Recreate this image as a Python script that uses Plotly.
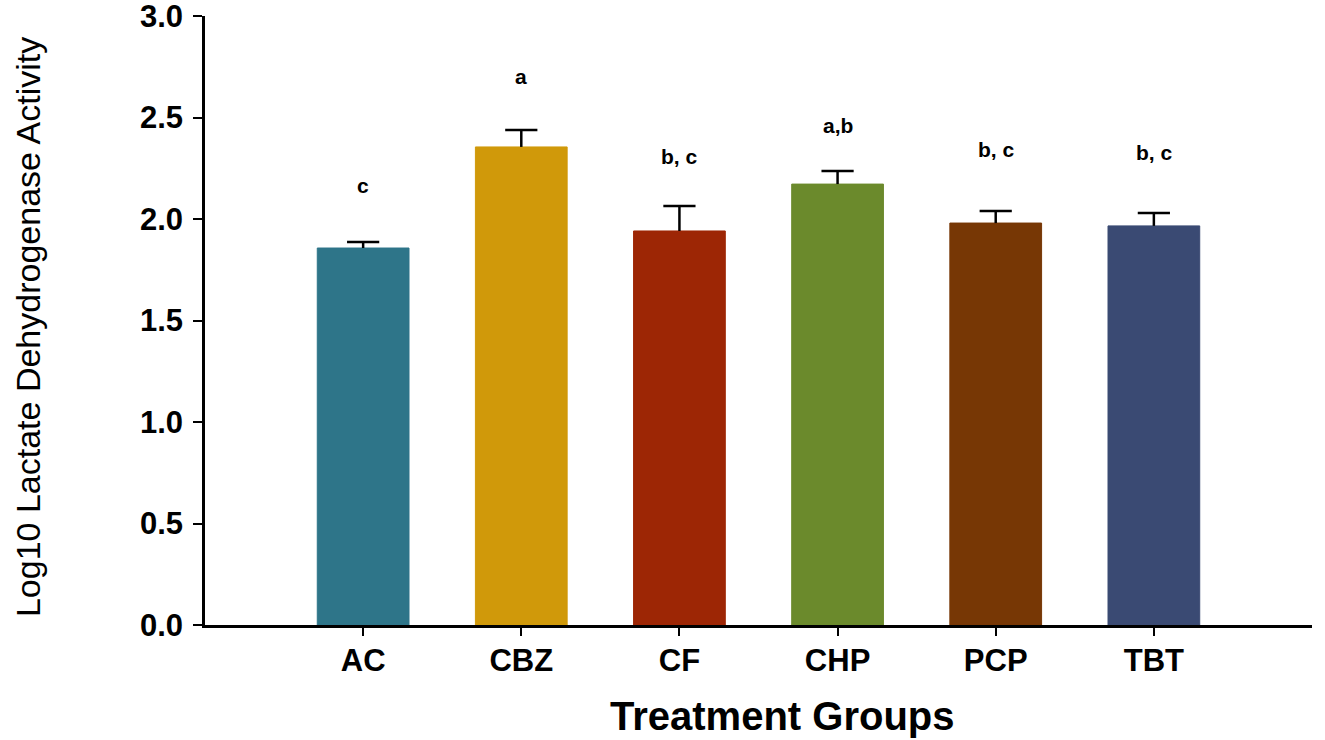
import plotly.graph_objects as go

groups = ["AC", "CBZ", "CF", "CHP", "PCP", "TBT"]
means = [1.857, 2.355, 1.941, 2.172, 1.980, 1.966]
errors = [0.030, 0.083, 0.123, 0.064, 0.059, 0.064]
letters = ["c", "a", "b, c", "a,b", "b, c", "b, c"]
letter_y = [2.167, 2.70, 2.31, 2.463, 2.34, 2.33]
colors = ["#2E7589", "#D0990A", "#9D2605", "#6B8A2C", "#773705", "#3A4A73"]

FONT = "Liberation Sans, Arial"

fig = go.Figure()
fig.add_trace(go.Bar(
    x=groups, y=means, width=0.58,
    marker=dict(color=colors, line=dict(color=colors, width=1)),
    showlegend=False, hoverinfo="skip",
))

# upper-only error bars: stem + cap
tops = [m + e for m, e in zip(means, errors)]
sx, sy = [], []
for g, m, t in zip(groups, means, tops):
    sx += [g, g, None]
    sy += [m, t, None]
fig.add_trace(go.Scatter(x=sx, y=sy, mode="lines",
                         line=dict(color="black", width=2.5),
                         showlegend=False, hoverinfo="skip"))
fig.add_trace(go.Scatter(x=groups, y=tops, mode="markers",
                         marker=dict(symbol="line-ew", size=23,
                                     line=dict(color="black", width=2.5)),
                         showlegend=False, hoverinfo="skip"))

for g, t, yy in zip(groups, letters, letter_y):
    fig.add_annotation(x=g, y=yy, text="<b>%s</b>" % t, showarrow=False,
                       font=dict(family=FONT, size=21, color="black"),
                       xanchor="center", yanchor="middle")

fig.add_annotation(xref="paper", yref="paper", x=0.522, y=-0.149,
                   text="<b>Treatment Groups</b>", showarrow=False,
                   font=dict(family=FONT, size=40, color="black"),
                   xanchor="center", yanchor="middle")
fig.add_annotation(xref="paper", yref="paper", x=-0.16, y=0.489,
                   text="Log10 Lactate Dehydrogenase Activity", showarrow=False,
                   textangle=-90,
                   font=dict(family=FONT, size=34, color="black"),
                   xanchor="center", yanchor="middle")

fig.update_layout(
    width=1325, height=740,
    margin=dict(l=205, r=13, t=16, b=115),
    plot_bgcolor="white", paper_bgcolor="white",
    xaxis=dict(range=[-1, 6], showline=True, linecolor="black", linewidth=2.5,
               ticks="outside", ticklen=8, tickwidth=2, tickcolor="black",
               tickfont=dict(family=FONT, size=31, color="black", weight="bold"),
               showgrid=False, zeroline=False, ticklabelstandoff=-2,
               automargin=False, ticklabeloverflow="allow"),
    yaxis=dict(range=[0, 3], dtick=0.5, tickformat=".1f", showline=True,
               linecolor="black", linewidth=2.5, ticks="outside", ticklen=9,
               tickwidth=2, tickcolor="black",
               tickfont=dict(family=FONT, size=31, color="black", weight="bold"),
               showgrid=False, zeroline=False, ticklabelstandoff=4,
               automargin=False, ticklabeloverflow="allow"),
    font=dict(family=FONT),
)

fig.write_html("out.html",
               config={"displayModeBar": False},
               post_script="document.body.style.margin='0';document.body.style.overflow='hidden';")
